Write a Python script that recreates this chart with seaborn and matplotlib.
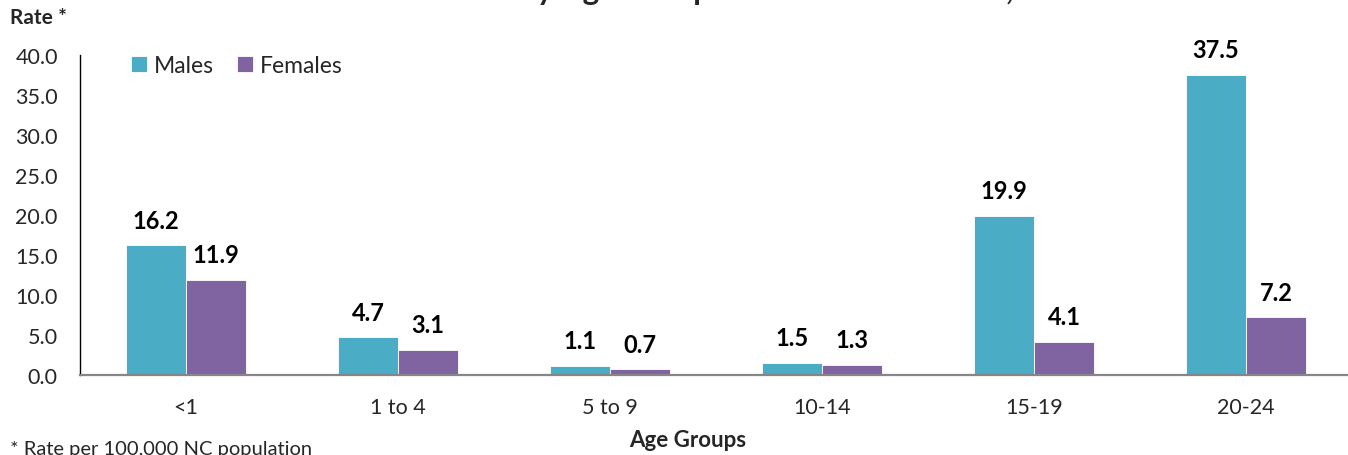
import matplotlib
matplotlib.use("Agg")
import matplotlib.pyplot as plt
import seaborn as sns
import pandas as pd

# Rates per 100,000 by age group
age_groups = ["<1", "1 to 4", "5 to 9", "10-14", "15-19", "20-24"]
males = [16.2, 4.7, 1.1, 1.5, 19.9, 37.5]
females = [11.9, 3.1, 0.7, 1.3, 4.1, 7.2]
series = ["Males", "Females"]
colors = {"Males": "#4BACC6", "Females": "#8064A2"}

df = pd.DataFrame({
    "Age Group": age_groups * 2,
    "Sex": ["Males"] * len(age_groups) + ["Females"] * len(age_groups),
    "Rate": males + females,
})

sns.set_theme(style="white")
plt.rcParams["font.family"] = ["Lato", "DejaVu Sans"]

W, H = 1348, 456
fig = plt.figure(figsize=(W / 100, H / 100), dpi=100)
ax = fig.add_axes([80 / W, 1 - 376 / H, 1272 / W, 320 / H])

sns.barplot(data=df, x="Age Group", y="Rate", hue="Sex", order=age_groups,
            hue_order=series, palette=colors, width=0.566, gap=0,
            saturation=1, ax=ax, edgecolor="white", linewidth=0.6)

ax.set_xlim(-0.5, 5.5)
ax.set_ylim(0, 40)
ax.set_yticks(range(0, 41, 5))
ax.set_yticklabels([f"{v:.1f}" for v in range(0, 41, 5)], fontsize=15.5)
ax.tick_params(axis="y", length=0, pad=16)
ax.tick_params(axis="x", length=0, pad=16, labelsize=15.5)
ax.set_xlabel("")
ax.set_ylabel("")

for side in ["top", "right"]:
    ax.spines[side].set_visible(False)
ax.spines["left"].set_color("#000000")
ax.spines["left"].set_linewidth(1.0)
ax.spines["bottom"].set_color("#868686")
ax.spines["bottom"].set_linewidth(1.6)

# Value labels above every bar
for container in ax.containers:
    ax.bar_label(container, fmt="%.1f", padding=10, fontsize=17,
                 fontweight="bold", color="#000000")

leg = ax.legend(loc="upper left", bbox_to_anchor=(0.033, 1.03), ncol=2,
                frameon=False, fontsize=16.5, handlelength=0.7,
                handleheight=0.7, handletextpad=0.3, columnspacing=1.0,
                borderaxespad=0)

fig.text(10 / W, 1 - 18 / H, "Rate *", fontsize=15, fontweight="bold",
         ha="left", va="center")
fig.text(688 / W, 1 - 441 / H, "Age Groups", fontsize=16, fontweight="bold",
         ha="center", va="center")
fig.text(10 / W, 1 - 450 / H, "* Rate per 100,000 NC population",
         fontsize=14.5, ha="left", va="center")
fig.text(292 / W, 1.0, "Homicide Rates by Age Group and Sex in NC Youth, 2018-2022",
         fontsize=22.5, fontweight="bold", ha="left", va="baseline")

fig.savefig("out.png", dpi=100)
